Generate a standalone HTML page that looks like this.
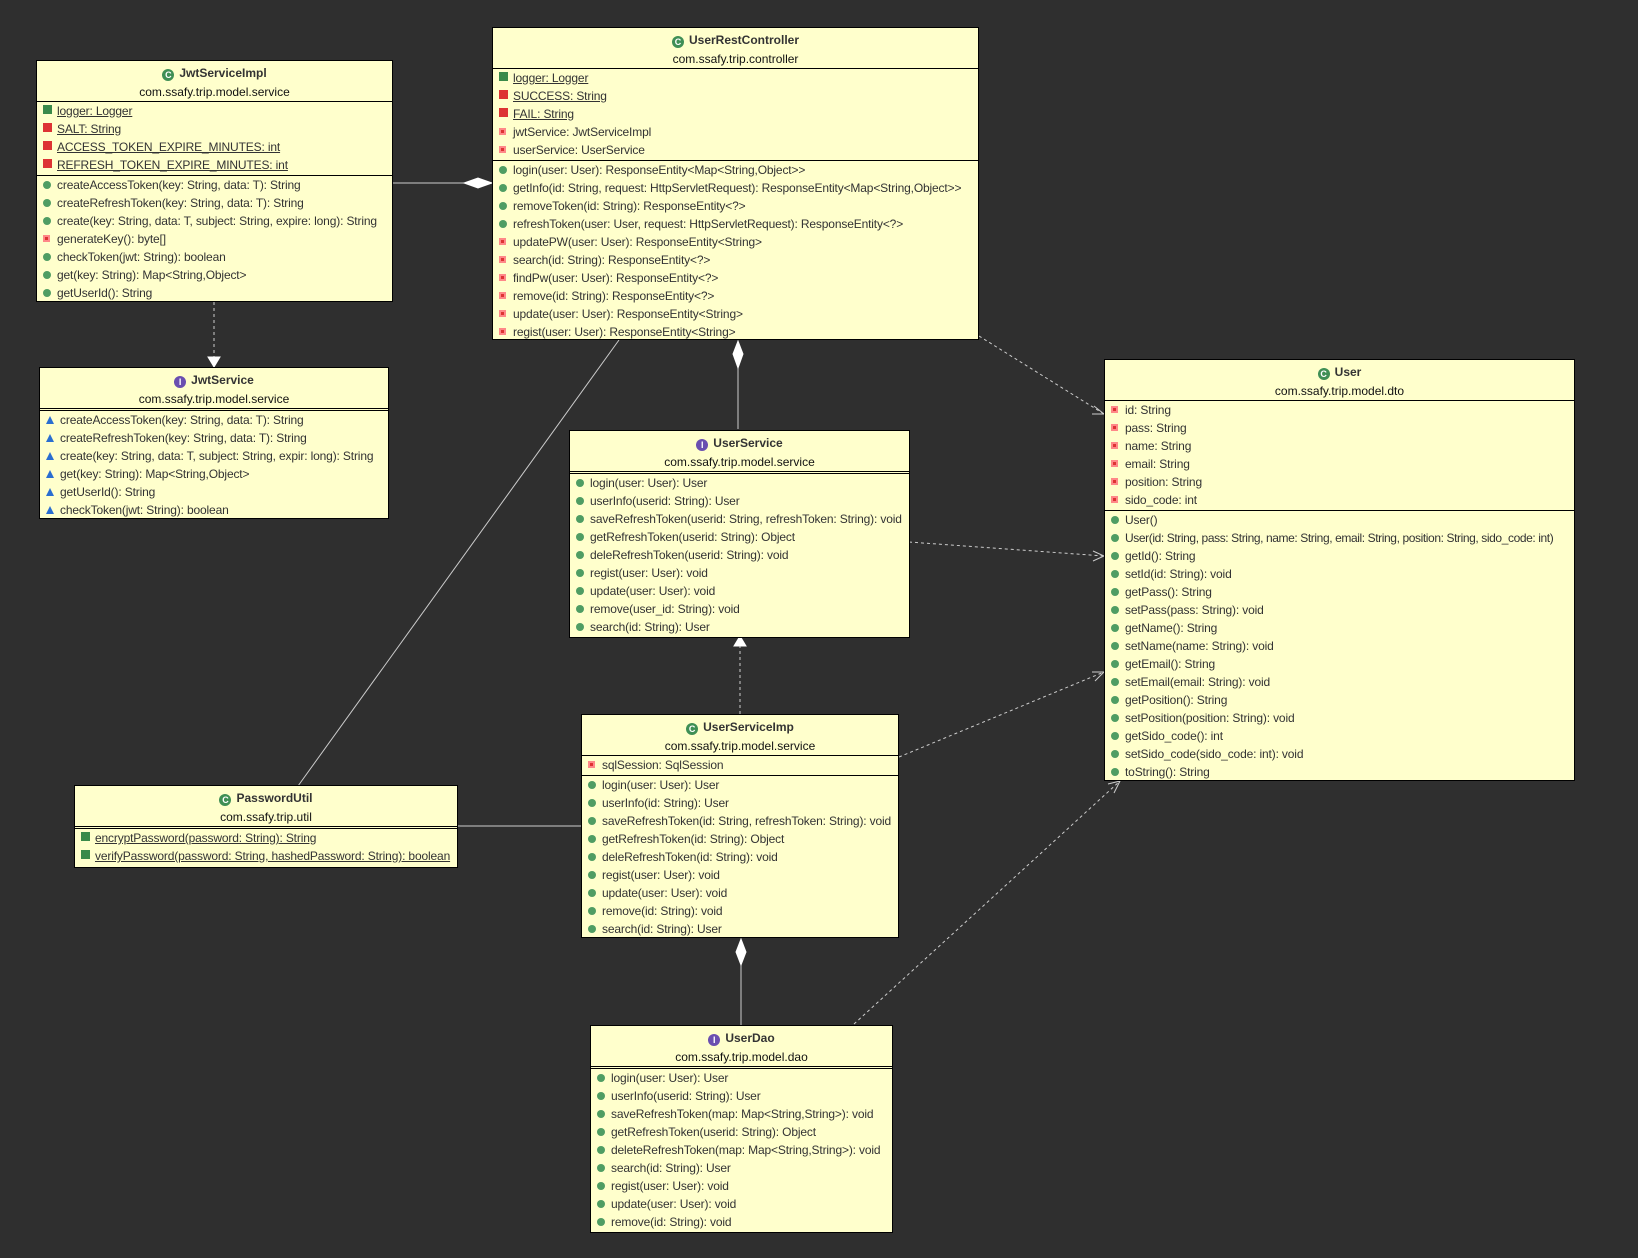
<!DOCTYPE html>
<html><head><meta charset="utf-8">
<style>
*{margin:0;padding:0;box-sizing:border-box}
body{width:1638px;height:1258px;background:#2f2f2f;position:relative;overflow:hidden;font-family:"Liberation Sans","Noto Sans CJK KR",sans-serif;font-size:12px;color:#222}
.b{position:absolute;background:#ffffcc;border:1px solid #000;overflow:hidden}
.h{height:41px;text-align:center;border-bottom:1px solid #000}
.h.d{border-bottom:3px double #000;height:43px}
.t{font-weight:bold;line-height:16px;padding-top:4px;color:#333}
.p{line-height:18px;color:#111;margin-top:2px}
.s{border-bottom:1px solid #000;padding:0 0 1px 0}
.r{height:18px;line-height:18px;white-space:nowrap;padding-left:20px;position:relative;color:#333;letter-spacing:-0.15px}
.u span{text-decoration:underline}
.r::before{content:"";position:absolute;left:6px;top:5px;width:8px;height:8px;border-radius:50%;background:#4f9d63}
.r.pr::before{border-radius:0;background:#d33;width:7px;height:7px;box-shadow:inset 0 0 0 2px #f88}
.r.pk::before{border-radius:0;background:none;width:0;height:0;border-left:4px solid transparent;border-right:4px solid transparent;border-bottom:8px solid #2a6ed0}
.r.st::before{background:#d33;border-radius:0;width:9px;height:9px;top:3px}
.r.sg::before{background:#3a8a4a;border-radius:0;width:9px;height:9px;top:3px}
.ic{display:inline-block;width:12px;height:12px;border-radius:50%;color:#fff;font-size:9px;line-height:12px;font-weight:bold;vertical-align:-1px;margin-right:5px;text-align:center}
.g{background:#3f8f55}.i{background:#6a4fb0}
</style></head><body>

<svg width="1638" height="1258" style="position:absolute;left:0;top:0">
<g stroke="#ccc" stroke-width="1" fill="none">
<line x1="393" y1="183" x2="464" y2="183"/>
<line x1="214" y1="302" x2="214" y2="357" stroke-dasharray="3,3"/>
<line x1="738" y1="368" x2="738" y2="429"/>
<line x1="619" y1="340" x2="298" y2="786"/>
<line x1="979" y1="336" x2="1104" y2="414" stroke-dasharray="3,3"/>
<line x1="909" y1="542" x2="1104" y2="556" stroke-dasharray="3,3"/>
<line x1="740" y1="714" x2="740" y2="646" stroke-dasharray="3,3"/>
<line x1="899" y1="757" x2="1104" y2="672" stroke-dasharray="3,3"/>
<line x1="854" y1="1024" x2="1120" y2="781" stroke-dasharray="3,3"/>
<line x1="741" y1="965" x2="741" y2="1025"/>
<line x1="458" y1="826" x2="581" y2="826"/>
<polyline points="1094,406 1104,414 1092,414"/>
<polyline points="1093,551 1104,556 1093,561"/>
<polyline points="1092,672 1104,672 1095,681"/>
<polyline points="1108,784 1120,781 1114,793"/>
</g>
<g fill="#fff" stroke="#fff">
<polygon points="492,183 478,178 464,183 478,188"/>
<polygon points="738,341 733,354 738,368 743,354"/>
<polygon points="741,939 736,952 741,965 746,952"/>
<polygon points="214,367 208,357 220,357" fill="#fff"/>
<polygon points="740,636 734,646 746,646"/>
</g>
</svg>

<!-- JwtServiceImpl -->
<div class="b" style="left:36px;top:60px;width:357px;height:242px">
<div class="h"><div class="t"><span class="ic g">C</span>JwtServiceImpl</div><div class="p">com.ssafy.trip.model.service</div></div>
<div class="s">
<div class="r sg u"><span>logger: Logger</span></div>
<div class="r st u"><span>SALT: String</span></div>
<div class="r st u"><span>ACCESS_TOKEN_EXPIRE_MINUTES: int</span></div>
<div class="r st u"><span>REFRESH_TOKEN_EXPIRE_MINUTES: int</span></div>
</div>
<div>
<div class="r">createAccessToken(key: String, data: T): String</div>
<div class="r">createRefreshToken(key: String, data: T): String</div>
<div class="r">create(key: String, data: T, subject: String, expire: long): String</div>
<div class="r pr">generateKey(): byte[]</div>
<div class="r">checkToken(jwt: String): boolean</div>
<div class="r">get(key: String): Map&lt;String,Object&gt;</div>
<div class="r">getUserId(): String</div>
</div></div>

<!-- JwtService -->
<div class="b" style="left:39px;top:367px;width:350px;height:152px">
<div class="h d"><div class="t"><span class="ic i">I</span>JwtService</div><div class="p">com.ssafy.trip.model.service</div></div>
<div>
<div class="r pk">createAccessToken(key: String, data: T): String</div>
<div class="r pk">createRefreshToken(key: String, data: T): String</div>
<div class="r pk">create(key: String, data: T, subject: String, expir: long): String</div>
<div class="r pk">get(key: String): Map&lt;String,Object&gt;</div>
<div class="r pk">getUserId(): String</div>
<div class="r pk">checkToken(jwt: String): boolean</div>
</div></div>

<!-- UserRestController -->
<div class="b" style="left:492px;top:27px;width:487px;height:313px">
<div class="h"><div class="t"><span class="ic g">C</span>UserRestController</div><div class="p">com.ssafy.trip.controller</div></div>
<div class="s">
<div class="r sg u"><span>logger: Logger</span></div>
<div class="r st u"><span>SUCCESS: String</span></div>
<div class="r st u"><span>FAIL: String</span></div>
<div class="r pr">jwtService: JwtServiceImpl</div>
<div class="r pr">userService: UserService</div>
</div>
<div>
<div class="r">login(user: User): ResponseEntity&lt;Map&lt;String,Object&gt;&gt;</div>
<div class="r">getInfo(id: String, request: HttpServletRequest): ResponseEntity&lt;Map&lt;String,Object&gt;&gt;</div>
<div class="r">removeToken(id: String): ResponseEntity&lt;?&gt;</div>
<div class="r">refreshToken(user: User, request: HttpServletRequest): ResponseEntity&lt;?&gt;</div>
<div class="r pr">updatePW(user: User): ResponseEntity&lt;String&gt;</div>
<div class="r pr">search(id: String): ResponseEntity&lt;?&gt;</div>
<div class="r pr">findPw(user: User): ResponseEntity&lt;?&gt;</div>
<div class="r pr">remove(id: String): ResponseEntity&lt;?&gt;</div>
<div class="r pr">update(user: User): ResponseEntity&lt;String&gt;</div>
<div class="r pr">regist(user: User): ResponseEntity&lt;String&gt;</div>
</div></div>

<!-- UserService -->
<div class="b" style="left:569px;top:430px;width:341px;height:208px">
<div class="h d"><div class="t"><span class="ic i">I</span>UserService</div><div class="p">com.ssafy.trip.model.service</div></div>
<div>
<div class="r">login(user: User): User</div>
<div class="r">userInfo(userid: String): User</div>
<div class="r">saveRefreshToken(userid: String, refreshToken: String): void</div>
<div class="r">getRefreshToken(userid: String): Object</div>
<div class="r">deleRefreshToken(userid: String): void</div>
<div class="r">regist(user: User): void</div>
<div class="r">update(user: User): void</div>
<div class="r">remove(user_id: String): void</div>
<div class="r">search(id: String): User</div>
</div></div>

<!-- User -->
<div class="b" style="left:1104px;top:359px;width:471px;height:422px">
<div class="h"><div class="t"><span class="ic g">C</span>User</div><div class="p">com.ssafy.trip.model.dto</div></div>
<div class="s">
<div class="r pr">id: String</div>
<div class="r pr">pass: String</div>
<div class="r pr">name: String</div>
<div class="r pr">email: String</div>
<div class="r pr">position: String</div>
<div class="r pr">sido_code: int</div>
</div>
<div>
<div class="r">User()</div>
<div class="r" style="letter-spacing:-0.4px">User(id: String, pass: String, name: String, email: String, position: String, sido_code: int)</div>
<div class="r">getId(): String</div>
<div class="r">setId(id: String): void</div>
<div class="r">getPass(): String</div>
<div class="r">setPass(pass: String): void</div>
<div class="r">getName(): String</div>
<div class="r">setName(name: String): void</div>
<div class="r">getEmail(): String</div>
<div class="r">setEmail(email: String): void</div>
<div class="r">getPosition(): String</div>
<div class="r">setPosition(position: String): void</div>
<div class="r">getSido_code(): int</div>
<div class="r">setSido_code(sido_code: int): void</div>
<div class="r">toString(): String</div>
</div></div>

<!-- UserServiceImp -->
<div class="b" style="left:581px;top:714px;width:318px;height:224px">
<div class="h"><div class="t"><span class="ic g">C</span>UserServiceImp</div><div class="p">com.ssafy.trip.model.service</div></div>
<div class="s">
<div class="r pr">sqlSession: SqlSession</div>
</div>
<div>
<div class="r">login(user: User): User</div>
<div class="r">userInfo(id: String): User</div>
<div class="r">saveRefreshToken(id: String, refreshToken: String): void</div>
<div class="r">getRefreshToken(id: String): Object</div>
<div class="r">deleRefreshToken(id: String): void</div>
<div class="r">regist(user: User): void</div>
<div class="r">update(user: User): void</div>
<div class="r">remove(id: String): void</div>
<div class="r">search(id: String): User</div>
</div></div>

<!-- PasswordUtil -->
<div class="b" style="left:74px;top:785px;width:384px;height:83px">
<div class="h d"><div class="t"><span class="ic g">C</span>PasswordUtil</div><div class="p">com.ssafy.trip.util</div></div>
<div>
<div class="r sg u"><span>encryptPassword(password: String): String</span></div>
<div class="r sg u"><span>verifyPassword(password: String, hashedPassword: String): boolean</span></div>
</div></div>

<!-- UserDao -->
<div class="b" style="left:590px;top:1025px;width:303px;height:208px">
<div class="h d"><div class="t"><span class="ic i">I</span>UserDao</div><div class="p">com.ssafy.trip.model.dao</div></div>
<div>
<div class="r">login(user: User): User</div>
<div class="r">userInfo(userid: String): User</div>
<div class="r">saveRefreshToken(map: Map&lt;String,String&gt;): void</div>
<div class="r">getRefreshToken(userid: String): Object</div>
<div class="r">deleteRefreshToken(map: Map&lt;String,String&gt;): void</div>
<div class="r">search(id: String): User</div>
<div class="r">regist(user: User): void</div>
<div class="r">update(user: User): void</div>
<div class="r">remove(id: String): void</div>
</div></div>

</body></html>
